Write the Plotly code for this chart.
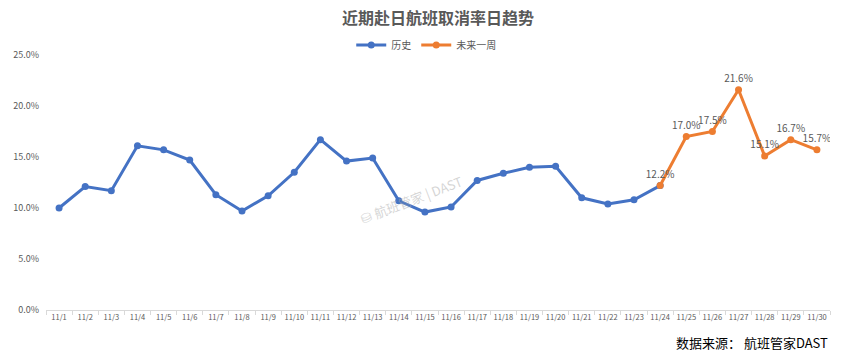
import plotly.graph_objects as go

dates = [f"11/{d}" for d in range(1, 31)]
hist_dates = dates[:24]
hist_vals = [10.0, 12.1, 11.7, 16.1, 15.7, 14.7, 11.3, 9.7, 11.2, 13.5, 16.7, 14.6,
             14.9, 10.7, 9.6, 10.1, 12.7, 13.4, 14.0, 14.1, 11.0, 10.4, 10.8, 12.2]
fut_dates = dates[23:]
fut_vals = [12.2, 17.0, 17.5, 21.6, 15.1, 16.7, 15.7]
y_ticks = [0, 5, 10, 15, 20, 25]
y_tick_text = ["0.0%", "5.0%", "10.0%", "15.0%", "20.0%", "25.0%"]

FONT = "Noto Sans CJK SC, Noto Sans, sans-serif"
BLUE = "#4472C4"
ORANGE = "#ED7D31"

fig = go.Figure()
fig.add_trace(go.Scatter(
    x=hist_dates, y=hist_vals, name="历史", mode="lines+markers",
    line=dict(color=BLUE, width=3), marker=dict(color=BLUE, size=7),
    hoverinfo="skip"))
fig.add_trace(go.Scatter(
    x=fut_dates, y=fut_vals, name="未来一周", mode="lines+markers+text",
    line=dict(color=ORANGE, width=3), marker=dict(color=ORANGE, size=7),
    text=[f"{v:.1f}%" for v in fut_vals], textposition="top center",
    textfont=dict(size=10, color="#595959", family=FONT),
    hoverinfo="skip"))

fig.update_layout(
    width=846, height=357,
    margin=dict(l=46, r=16, t=55, b=47, autoexpand=False),
    paper_bgcolor="white", plot_bgcolor="white",
    font=dict(family=FONT, color="#595959"),
    title=dict(text="<b>近期赴日航班取消率日趋势</b>", x=0.5, xanchor="center",
               xref="paper", y=1 - 18 / 357, yref="container", yanchor="middle",
               font=dict(size=16, color="#595959", family=FONT)),
    legend=dict(orientation="h", x=0.485, xanchor="center", xref="paper",
                y=1 - 45 / 357, yref="container", yanchor="middle",
                font=dict(size=10, color="#595959", family=FONT),
                itemwidth=30, bgcolor="rgba(0,0,0,0)"),
    showlegend=True,
)
fig.update_xaxes(
    type="category", categoryorder="array", categoryarray=dates,
    showgrid=False, showline=True, linecolor="#d9d9d9", linewidth=1,
    ticks="outside", tickson="boundaries", ticklen=4, tickcolor="#d9d9d9",
    tickangle=0, automargin=False,
    tickfont=dict(size=7.5, color="#595959", family=FONT),
    range=[-0.5, 29.5], fixedrange=True)
fig.update_yaxes(
    range=[0, 25], tickvals=y_ticks, ticktext=y_tick_text,
    showgrid=False, zeroline=False, showline=False, automargin=False,
    tickfont=dict(size=9, color="#595959", family=FONT), ticklabelstandoff=6,
    fixedrange=True)

fig.add_annotation(text="数据来源： 航班管家DAST", xref="paper", yref="paper",
                   x=1.0, xanchor="right", y=-0.129, yanchor="middle", showarrow=False,
                   font=dict(size=13, color="#000000", family=FONT))
fig.add_annotation(text="⛁ 航班管家 | DAST", xref="x", yref="y",
                   x=13.5, y=10.8, textangle=-21, showarrow=False,
                   font=dict(size=13, color="rgba(170,170,170,0.5)", family=FONT))

fig.write_html("out.html", post_script="document.body.style.margin='0';",
               config={"displayModeBar": False})
